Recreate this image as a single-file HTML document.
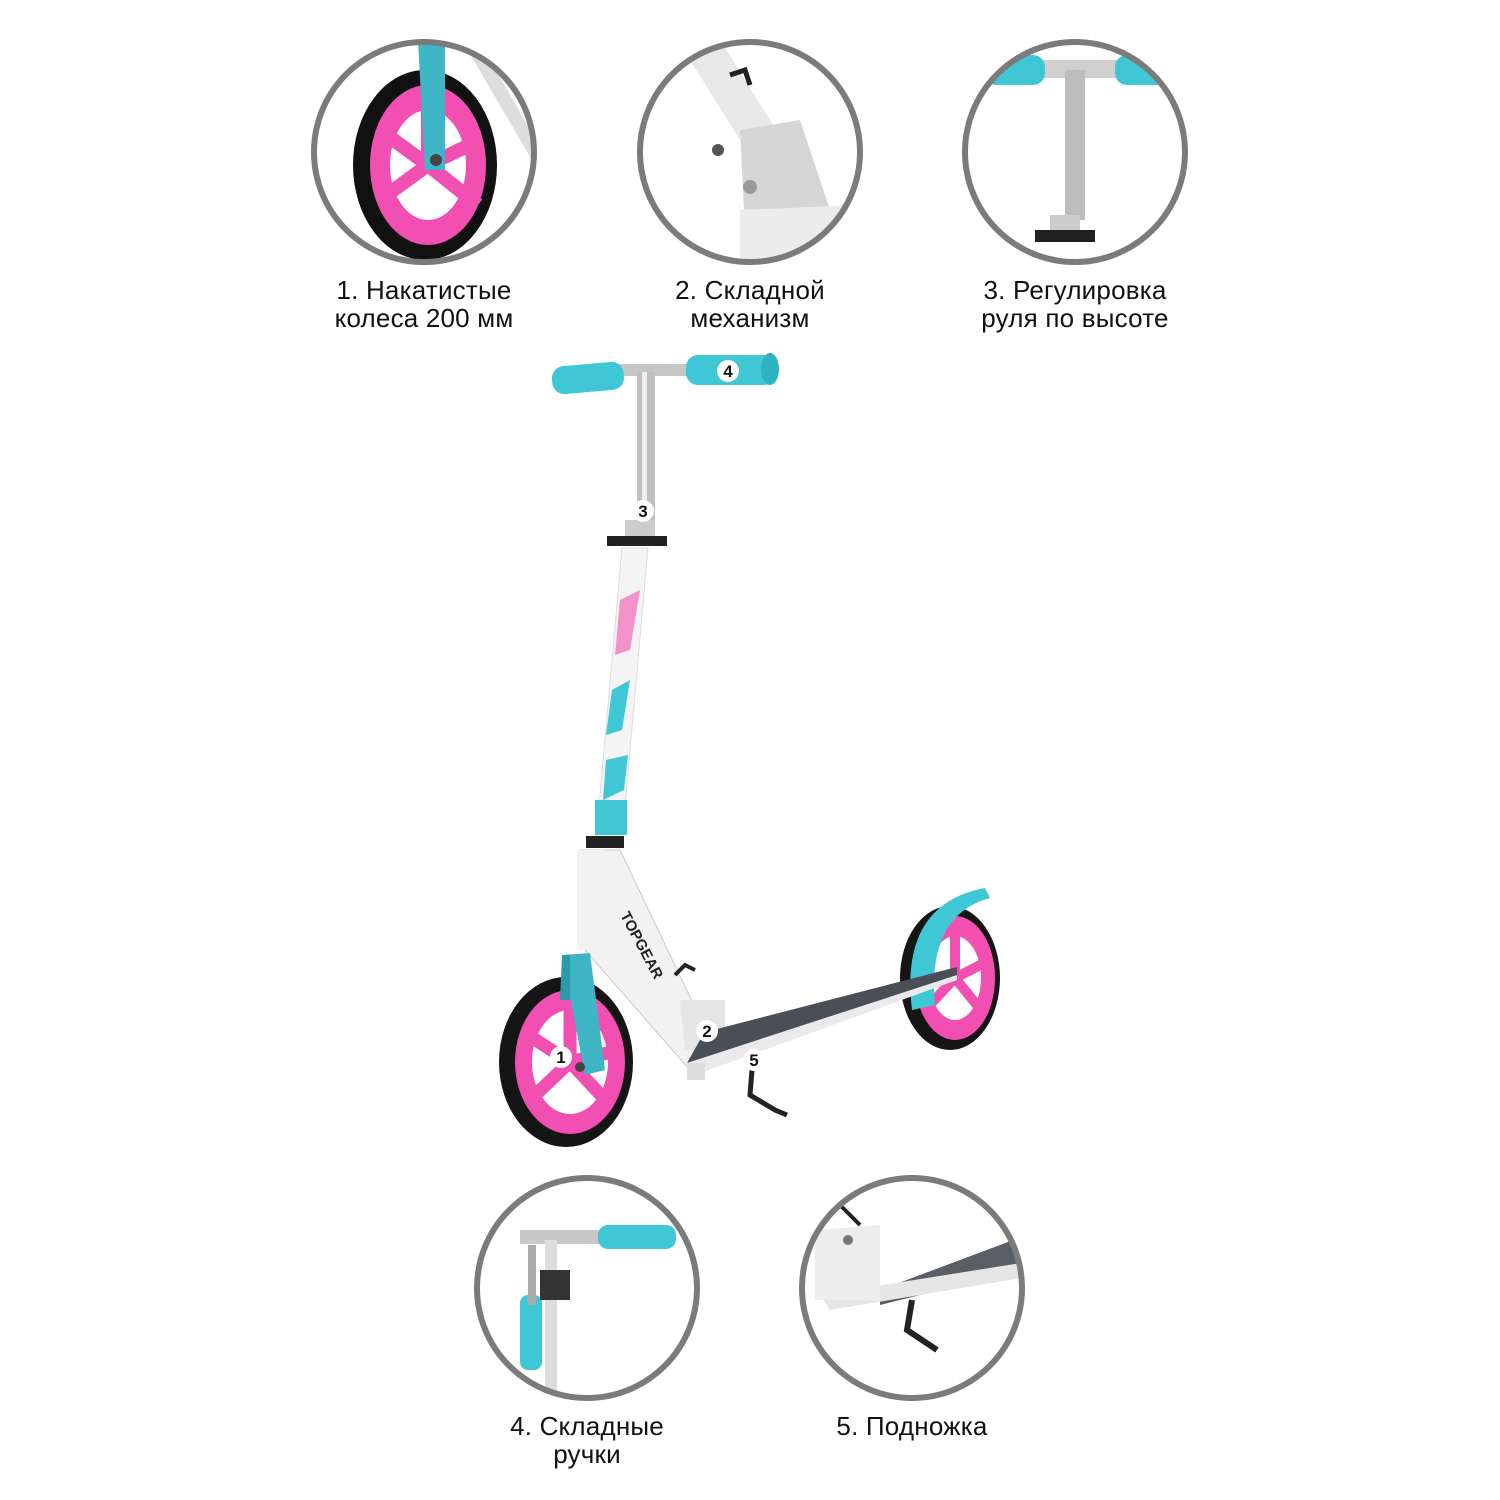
<!DOCTYPE html>
<html><head><meta charset="utf-8"><style>
body{margin:0;width:1500px;height:1500px;background:#fff;overflow:hidden;font-family:"Liberation Sans",sans-serif}
.l{position:absolute;text-align:center;font-size:26px;line-height:28px;color:#111;width:300px;letter-spacing:0.2px}
</style></head><body>
<svg width="1500" height="1500" style="position:absolute;left:0;top:0">
<defs>
<clipPath id="c1"><circle cx="424" cy="152" r="110"/></clipPath>
<clipPath id="c2"><circle cx="750" cy="152" r="110"/></clipPath>
<clipPath id="c3"><circle cx="1075" cy="152" r="110"/></clipPath>
<clipPath id="c4"><circle cx="587" cy="1288" r="110"/></clipPath>
<clipPath id="c5"><circle cx="912" cy="1288" r="110"/></clipPath>
</defs>
<!-- circle 1: wheel -->
<g clip-path="url(#c1)">
<line x1="470" y1="40" x2="540" y2="160" stroke="#ddd" stroke-width="14"/>
<ellipse cx="425" cy="165" rx="72" ry="95" fill="#111"/>
<ellipse cx="428" cy="165" rx="58" ry="80" fill="#f24fb3"/>
<ellipse cx="428" cy="165" rx="38" ry="55" fill="#fff"/>
<g stroke="#f24fb3" stroke-width="14"><line x1="428" y1="165" x2="428" y2="90"/><line x1="428" y1="165" x2="380" y2="200"/><line x1="428" y1="165" x2="478" y2="205"/><line x1="428" y1="165" x2="480" y2="140"/><line x1="428" y1="165" x2="380" y2="130"/></g>
<polygon points="418,40 445,40 445,170 425,170" fill="#3fb6c6"/>
<circle cx="436" cy="160" r="6" fill="#444"/>
</g>
<circle cx="424" cy="152" r="110" fill="none" stroke="#7b7b7b" stroke-width="6"/>
<!-- circle 2 -->
<g clip-path="url(#c2)">
<polygon points="690,60 720,40 820,200 790,220" fill="#e8e8e8"/>
<polygon points="740,130 800,120 830,210 745,230" fill="#d6d6d6"/>
<polygon points="740,210 860,205 860,260 740,260" fill="#ececec"/>
<path d="M730,75 l15,-5 l5,15" stroke="#222" stroke-width="5" fill="none"/>
<circle cx="718" cy="150" r="6" fill="#555"/><circle cx="750" cy="187" r="7" fill="#999"/>
</g>
<circle cx="750" cy="152" r="110" fill="none" stroke="#7b7b7b" stroke-width="6"/>
<!-- circle 3 -->
<g clip-path="url(#c3)">
<rect x="960" y="60" width="230" height="18" fill="#cfcfcf"/>
<rect x="985" y="55" width="60" height="30" rx="12" fill="#3fc7d6"/>
<rect x="1115" y="55" width="80" height="30" rx="12" fill="#3fc7d6"/>
<rect x="1065" y="70" width="20" height="150" fill="#bdbdbd"/>
<rect x="1035" y="230" width="60" height="12" fill="#222"/>
<rect x="1050" y="215" width="30" height="15" fill="#ccc"/>
</g>
<circle cx="1075" cy="152" r="110" fill="none" stroke="#7b7b7b" stroke-width="6"/>
<!-- circle 4 -->
<g clip-path="url(#c4)">
<rect x="520" y="1230" width="90" height="14" fill="#c8c8c8"/>
<rect x="598" y="1225" width="78" height="24" rx="10" fill="#3fc7d6"/>
<rect x="520" y="1295" width="22" height="75" rx="8" fill="#3fc7d6"/>
<rect x="545" y="1240" width="12" height="160" fill="#ddd"/>
<rect x="528" y="1245" width="8" height="60" fill="#aaa"/>
<rect x="540" y="1270" width="30" height="30" fill="#333"/>
</g>
<circle cx="587" cy="1288" r="110" fill="none" stroke="#7b7b7b" stroke-width="6"/>
<!-- circle 5 -->
<g clip-path="url(#c5)">
<polygon points="880,1290 1040,1230 1040,1265 880,1305" fill="#5a5f66"/>
<polygon points="820,1295 1040,1260 1040,1275 830,1310" fill="#e6e6e6"/>
<polygon points="815,1230 880,1225 880,1300 815,1300" fill="#ededed"/>
<line x1="835" y1="1200" x2="860" y2="1225" stroke="#222" stroke-width="4"/>
<circle cx="848" cy="1240" r="5" fill="#777"/>
<path d="M912,1300 l-5,30 l30,20" stroke="#222" stroke-width="6" fill="none"/>
</g>
<circle cx="912" cy="1288" r="110" fill="none" stroke="#7b7b7b" stroke-width="6"/>

<!-- scooter -->
<!-- handlebar -->
<rect x="600" y="364" width="100" height="12" fill="#c6c6c6"/>
<rect x="552" y="364" width="72" height="28" rx="12" fill="#3fc7d6" transform="rotate(-5 588 378)"/>
<rect x="686" y="355" width="90" height="30" rx="12" fill="#3fc7d6"/>
<ellipse cx="770" cy="369" rx="9" ry="16" fill="#2fb3c3"/>
<rect x="637" y="372" width="18" height="150" fill="#bfbfbf"/>
<rect x="642" y="372" width="5" height="150" fill="#eee"/>
<rect x="625" y="520" width="30" height="16" fill="#ccc"/>
<rect x="607" y="536" width="60" height="10" fill="#222"/>
<!-- main tube -->
<polygon points="622,548 648,548 622,840 596,840" fill="#f4f4f4" stroke="#ddd"/>
<polygon points="620,600 640,590 630,650 615,655" fill="#f06ab7" opacity=".7"/>
<polygon points="612,690 630,680 622,730 606,735" fill="#3fc7d6"/>
<polygon points="606,760 628,755 624,790 603,800" fill="#3fc7d6"/>
<rect x="595" y="800" width="32" height="35" fill="#3fc7d6"/>
<rect x="586" y="836" width="38" height="12" fill="#222"/>
<!-- down frame -->
<polygon points="580,850 620,850 720,1060 690,1070 585,950" fill="#f2f2f2" stroke="#ccc"/>
<text x="620" y="915" font-size="15" font-weight="bold" fill="#222" transform="rotate(62 620 915)">TOPGEAR</text>
<circle cx="590" cy="880" r="10" fill="none" stroke="#3fc7d6" stroke-width="4"/>
<rect x="577" y="850" width="28" height="100" fill="#f2f2f2"/>
<polygon points="680,1000 725,1000 725,1050 685,1050" fill="#e5e5e5"/>
<path d="M675,975 l10,-10 l10,5" stroke="#222" stroke-width="4" fill="none"/>
<!-- front wheel -->
<ellipse cx="566" cy="1062" rx="67" ry="85" fill="#151515"/>
<ellipse cx="570" cy="1062" rx="55" ry="72" fill="#f24fb3"/>
<ellipse cx="570" cy="1062" rx="38" ry="52" fill="#fff"/>
<g stroke="#f24fb3" stroke-width="13"><line x1="570" y1="1062" x2="570" y2="995"/><line x1="570" y1="1062" x2="530" y2="1100"/><line x1="570" y1="1062" x2="610" y2="1105"/><line x1="570" y1="1062" x2="620" y2="1050"/><line x1="570" y1="1062" x2="528" y2="1035"/></g>
<polygon points="562,955 590,953 605,1070 585,1075" fill="#3fb6c6"/>
<polygon points="562,955 570,955 570,1000 560,1000" fill="#2a9aab"/>
<circle cx="580" cy="1067" r="5" fill="#444"/>
<!-- rear wheel -->
<ellipse cx="950" cy="978" rx="50" ry="72" fill="#151515"/>
<ellipse cx="955" cy="978" rx="40" ry="62" fill="#f24fb3"/>
<ellipse cx="955" cy="978" rx="26" ry="42" fill="#fff"/>
<g stroke="#f24fb3" stroke-width="10"><line x1="955" y1="978" x2="955" y2="925"/><line x1="955" y1="978" x2="925" y2="1010"/><line x1="955" y1="978" x2="985" y2="1015"/><line x1="955" y1="978" x2="990" y2="960"/></g>
<path d="M912,1010 C905,950 920,900 985,888 L990,898 C945,910 930,950 935,1005 Z" fill="#3fc7d6"/>
<!-- deck -->
<polygon points="687,1063 957,967 957,980 687,1078" fill="#eaeaea"/>
<polygon points="713,1030 957,967 957,975 687,1063 700,1040" fill="#4a4f57"/>
<polygon points="687,1063 705,1063 705,1080 687,1080" fill="#ddd"/>
<path d="M752,1070 l-2,25 l25,15 l12,5" stroke="#222" stroke-width="5" fill="none"/>
<!-- markers -->
<g font-size="17" font-weight="bold" text-anchor="middle" fill="#111">
<circle cx="728" cy="371" r="11" fill="#fff"/><text x="728" y="377">4</text>
<circle cx="643" cy="511" r="11" fill="#fff"/><text x="643" y="517">3</text>
<circle cx="707" cy="1031" r="11" fill="#fff"/><text x="707" y="1037">2</text>
<circle cx="561" cy="1057" r="11" fill="#fff"/><text x="561" y="1063">1</text>
<circle cx="754" cy="1060" r="11" fill="#fff"/><text x="754" y="1066">5</text>
</g>
</svg>
<div class="l" style="left:274px;top:276px">1. Накатистые<br>колеса 200 мм</div>
<div class="l" style="left:600px;top:276px">2. Складной<br>механизм</div>
<div class="l" style="left:925px;top:276px">3. Регулировка<br>руля по высоте</div>
<div class="l" style="left:437px;top:1412px">4. Складные<br>ручки</div>
<div class="l" style="left:762px;top:1412px">5. Подножка</div>
</body></html>
